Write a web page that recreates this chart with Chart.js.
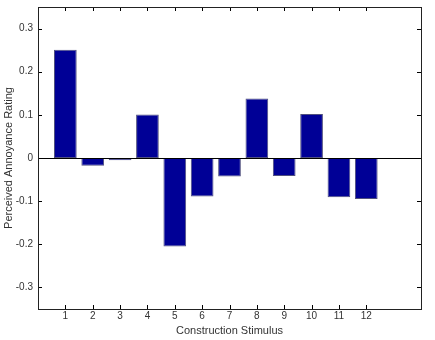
<!DOCTYPE html>
<html>
<head>
<meta charset="utf-8">
<script src="https://cdn.jsdelivr.net/npm/chart.js@4/dist/chart.umd.min.js"></script>
<style>
  html, body { margin: 0; padding: 0; background: #fff; }
  #wrap { width: 435px; height: 340px; }
</style>
</head>
<body>
<div id="wrap"><canvas id="barChart" width="435" height="340"></canvas></div>
<script>
// data
const stimuli = [1, 2, 3, 4, 5, 6, 7, 8, 9, 10, 11, 12];
const ratings = [0.251, -0.018, -0.005, 0.101, -0.205, -0.089, -0.043, 0.138, -0.042, 0.102, -0.091, -0.095];
const yTicks = [-0.3, -0.2, -0.1, 0, 0.1, 0.2, 0.3];

const txtColor = '#333';
const fontFam = '"Liberation Sans", Arial, Helvetica, sans-serif';

// frame, tick ke dalam, dan garis nol ala Matlab
const frameTicks = {
    id: 'frameTicks',
    afterDatasetsDraw(chart) {
        const { ctx, chartArea: a, scales: { x, y } } = chart;
        const len = 4;
        ctx.save();
        ctx.strokeStyle = '#000';
        ctx.lineWidth = 1;
        ctx.beginPath();
        // garis nol
        const y0 = Math.round(y.getPixelForValue(0)) + 0.5;
        ctx.moveTo(a.left, y0);
        ctx.lineTo(a.right, y0);
        // tick sumbu x (atas dan bawah)
        stimuli.forEach(s => {
            const px = Math.round(x.getPixelForValue(s)) + 0.5;
            ctx.moveTo(px, a.bottom); ctx.lineTo(px, a.bottom - len);
            ctx.moveTo(px, a.top); ctx.lineTo(px, a.top + len);
        });
        // tick sumbu y (kiri dan kanan)
        yTicks.forEach(v => {
            const py = Math.round(y.getPixelForValue(v)) + 0.5;
            ctx.moveTo(a.left, py); ctx.lineTo(a.left + len, py);
            ctx.moveTo(a.right, py); ctx.lineTo(a.right - len, py);
        });
        ctx.stroke();
        ctx.strokeStyle = '#222';
        ctx.strokeRect(Math.round(a.left) + 0.5, Math.round(a.top) + 0.5,
            Math.round(a.right - a.left), Math.round(a.bottom - a.top));
        ctx.restore();
    }
};

new Chart(document.getElementById('barChart').getContext('2d'), {
    type: 'bar',
    data: {
        datasets: [{
            data: stimuli.map((s, i) => ({ x: s, y: ratings[i] })),
            backgroundColor: '#000096',
            borderColor: '#50507e',
            borderWidth: 1,
            borderSkipped: false,
            barPercentage: 0.83,
            categoryPercentage: 1
        }]
    },
    options: {
        responsive: false,
        animation: false,
        events: [],
        layout: { padding: { top: 7, right: 14, left: 0, bottom: 0 } },
        plugins: { legend: { display: false }, tooltip: { enabled: false } },
        scales: {
            x: {
                type: 'linear',
                min: 0,
                max: 14,
                offset: false,
                afterFit: s => { s.height = 31; s.paddingLeft = 0; s.paddingRight = 0; },
                afterBuildTicks: s => { s.ticks = stimuli.map(v => ({ value: v })); },
                grid: { display: false, drawTicks: false, tickLength: 0 },
                border: { display: false },
                ticks: {
                    color: txtColor,
                    font: { family: fontFam, size: 10 },
                    padding: 1,
                    maxRotation: 0,
                    autoSkip: false
                },
                title: {
                    display: true,
                    text: 'Construction Stimulus',
                    color: txtColor,
                    font: { family: fontFam, size: 11 },
                    padding: { top: 1, bottom: 2 }
                }
            },
            y: {
                min: -0.35,
                max: 0.35,
                afterFit: s => { s.width = 38; s.paddingTop = 0; s.paddingBottom = 0; },
                afterBuildTicks: s => { s.ticks = yTicks.map(v => ({ value: v })); },
                grid: { display: false, drawTicks: false, tickLength: 0 },
                border: { display: false },
                ticks: {
                    color: txtColor,
                    font: { family: fontFam, size: 10 },
                    padding: 5,
                    callback: v => (Math.abs(v) < 1e-9 ? '0' : v.toFixed(1))
                },
                title: {
                    display: true,
                    text: 'Perceived Annoyance Rating',
                    color: txtColor,
                    font: { family: fontFam, size: 11 },
                    padding: { top: 2, bottom: 0 }
                }
            }
        }
    },
    plugins: [frameTicks]
});
</script>
</body>
</html>
